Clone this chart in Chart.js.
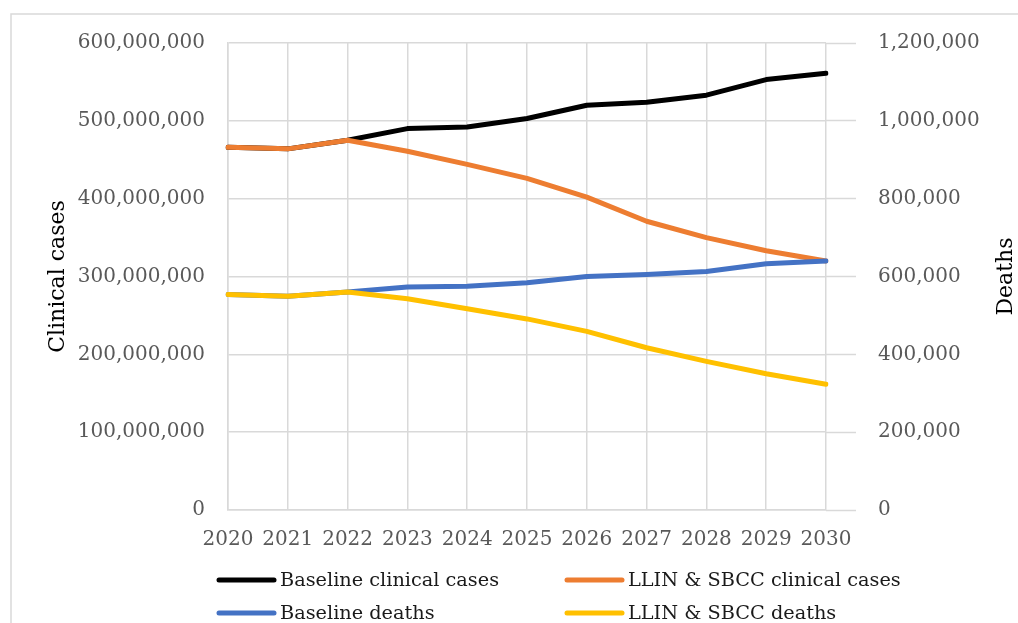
<!DOCTYPE html>
<html>
<head>
<meta charset="utf-8">
<title>Clinical cases and deaths, 2020–2030</title>
<script src="https://cdn.jsdelivr.net/npm/chart.js@4/dist/chart.umd.min.js"></script>
<style>
  html, body { margin: 0; padding: 0; background: #ffffff; }
  #wrap { width: 1018px; height: 623px; }
</style>
</head>
<body>
<div id="wrap"><canvas id="chart" width="1018" height="623"></canvas></div>
<script>
// Years on the horizontal axis
const years = ['2020', '2021', '2022', '2023', '2024', '2025', '2026', '2027', '2028', '2029', '2030'];

// Clinical cases (left axis)
const baselineCases = [466e6, 464e6, 475e6, 490e6, 492e6, 503e6, 520e6, 524e6, 533e6, 553e6, 561e6];
const llinCases     = [466e6, 464e6, 475e6, 461e6, 444e6, 426e6, 402e6, 371e6, 350e6, 333e6, 320e6];

// Deaths (right axis)
const baselineDeaths = [554e3, 549e3, 560e3, 573e3, 575e3, 584e3, 600e3, 605e3, 613e3, 633e3, 640e3];
const llinDeaths     = [554e3, 549e3, 560e3, 543e3, 517e3, 491e3, 459e3, 417e3, 382e3, 350e3, 323e3];

// Series names
const seriesNames = ['Baseline clinical cases', 'LLIN & SBCC clinical cases', 'Baseline deaths', 'LLIN & SBCC deaths'];

const FONT = "'DejaVu Serif', serif";
const GRID = '#d9d9d9';
const TICK_TEXT = '#595959';
const fmt = v => Number(v).toLocaleString('en-US');

// Light frame around the whole chart area
const framePlugin = {
  id: 'frame',
  beforeDraw(chart) {
    const ctx = chart.ctx;
    ctx.save();
    ctx.strokeStyle = GRID;
    ctx.lineWidth = 1.5;
    ctx.strokeRect(11, 14, chart.width + 20, chart.height + 20);
    ctx.restore();
  }
};

// Right-hand axis title, reading bottom to top
const rightTitlePlugin = {
  id: 'rightTitle',
  afterDraw(chart) {
    const ctx = chart.ctx;
    const area = chart.chartArea;
    ctx.save();
    ctx.translate(1006, (area.top + area.bottom) / 2);
    ctx.rotate(-Math.PI / 2);
    ctx.font = '22px ' + FONT;
    ctx.fillStyle = '#000000';
    ctx.textAlign = 'center';
    ctx.textBaseline = 'middle';
    ctx.fillText('Deaths', 0, 0);
    ctx.restore();
  }
};

// Two-column legend below the axis
const gridLegendPlugin = {
  id: 'gridLegend',
  afterDraw(chart) {
    const ctx = chart.ctx;
    const cols = [219, 567];
    const rows = [580, 613];
    const sample = 55;
    ctx.save();
    ctx.font = '19.3px ' + FONT;
    ctx.textBaseline = 'middle';
    ctx.textAlign = 'left';
    chart.data.datasets.forEach((ds, i) => {
      const x = cols[i % 2];
      const y = rows[Math.floor(i / 2)];
      ctx.strokeStyle = ds.borderColor;
      ctx.lineWidth = 5;
      ctx.lineCap = 'round';
      ctx.beginPath();
      ctx.moveTo(x, y);
      ctx.lineTo(x + sample, y);
      ctx.stroke();
      ctx.fillStyle = '#1a1a1a';
      ctx.fillText(ds.label, x + sample + 6, y + 1);
    });
    ctx.restore();
  }
};

const lineStyle = color => ({
  borderColor: color,
  backgroundColor: color,
  borderWidth: 5,
  borderCapStyle: 'round',
  borderJoinStyle: 'round',
  pointRadius: 0,
  pointHoverRadius: 0,
  tension: 0,
  fill: false
});

new Chart(document.getElementById('chart'), {
  type: 'line',
  data: {
    labels: years,
    datasets: [
      Object.assign({ label: seriesNames[0], data: baselineCases, yAxisID: 'y', order: 4 }, lineStyle('#000000')),
      Object.assign({ label: seriesNames[1], data: llinCases, yAxisID: 'y', order: 3 }, lineStyle('#ED7D31')),
      Object.assign({ label: seriesNames[2], data: baselineDeaths, yAxisID: 'y1', order: 2 }, lineStyle('#4472C4')),
      Object.assign({ label: seriesNames[3], data: llinDeaths, yAxisID: 'y1', order: 1 }, lineStyle('#FFC000'))
    ]
  },
  options: {
    responsive: false,
    animation: false,
    layout: { padding: { top: 43, left: 0, right: 0, bottom: 0 } },
    plugins: {
      legend: { display: false },
      tooltip: { enabled: false }
    },
    scales: {
      x: {
        type: 'category',
        offset: false,
        grid: { color: GRID, lineWidth: 1.5, drawTicks: false },
        border: { color: GRID, width: 1.5 },
        ticks: {
          font: { family: FONT, size: 20 },
          color: TICK_TEXT,
          padding: 18,
          autoSkip: false,
          maxRotation: 0,
          minRotation: 0
        },
        afterFit(s) { s.height = 113; }
      },
      y: {
        position: 'left',
        min: 0,
        max: 600e6,
        grid: { color: GRID, lineWidth: 1.5, drawTicks: false },
        border: { color: GRID, width: 1.5 },
        ticks: {
          stepSize: 100e6,
          font: { family: FONT, size: 20 },
          color: TICK_TEXT,
          padding: 23,
          callback: v => fmt(v)
        },
        title: {
          display: true,
          text: 'Clinical cases',
          font: { family: FONT, size: 22 },
          color: '#000000',
          padding: { top: 45, bottom: 0 }
        },
        afterFit(s) { s.width = 228; }
      },
      y1: {
        position: 'right',
        min: 0,
        max: 1.2e6,
        grid: { drawOnChartArea: false, drawTicks: true, tickLength: 30, tickColor: GRID, tickWidth: 1.5, color: GRID },
        border: { display: false },
        ticks: {
          stepSize: 200e3,
          font: { family: FONT, size: 20 },
          color: TICK_TEXT,
          padding: 22,
          callback: v => fmt(v)
        },
        afterFit(s) { s.width = 192; }
      }
    }
  },
  plugins: [framePlugin, rightTitlePlugin, gridLegendPlugin]
});
</script>
</body>
</html>
